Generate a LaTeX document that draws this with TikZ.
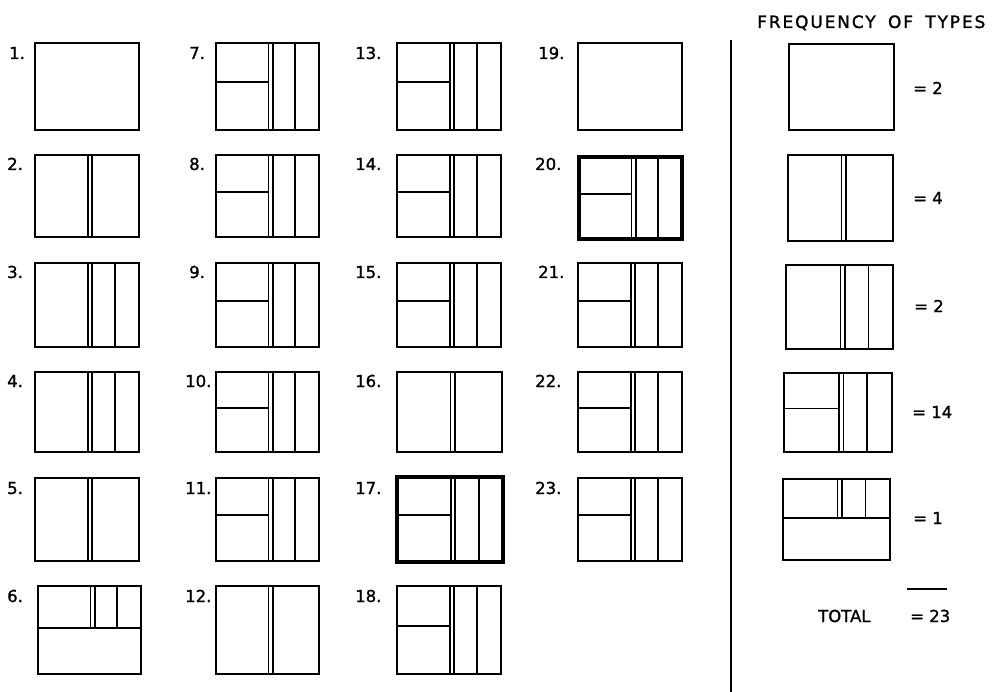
\documentclass[tikz,border=0pt]{standalone}
\usepackage{fontspec}
\setmainfont{DejaVu Sans}[FakeBold=1.3]
\usetikzlibrary{calc}
\newcommand\mkpanel[5]{\node[panel, minimum width=#4pt, minimum height=#5pt] (#1) at (#2,#3) {};}
\newcommand\splitB[1]{%
  \draw[inner] ($(#1.north west)!0.51!(#1.north east)$) -- ($(#1.south west)!0.51!(#1.south east)$);
  \draw[inner] ($(#1.north west)!0.55!(#1.north east)$) -- ($(#1.south west)!0.55!(#1.south east)$);}
\newcommand\splitC[1]{\splitB{#1}%
  \draw[inner] ($(#1.north west)!0.77!(#1.north east)$) -- ($(#1.south west)!0.77!(#1.south east)$);}
\newcommand\splitD[1]{\splitC{#1}%
  \coordinate (#1h) at ($(#1.north west)!0.45!(#1.south west)$);
  \coordinate (#1v) at ($(#1.north west)!0.51!(#1.north east)$);
  \draw[inner] (#1h) -- (#1h -| #1v);}
\newcommand\splitE[1]{%
  \coordinate (#1h) at ($(#1.north west)!0.48!(#1.south west)$);
  \coordinate (#1k) at ($(#1.north east)!0.48!(#1.south east)$);
  \draw[inner] (#1h) -- (#1k);
  \foreach \f in {0.51,0.55,0.77}{\draw[inner] ($(#1.north west)!\f!(#1.north east)$) -- ($(#1h)!\f!(#1k)$);}}
\begin{document}
\begin{tikzpicture}[x=1pt,y=-1pt,
  panel/.style={draw, line width=2.2pt, inner sep=0pt, outer sep=0pt, anchor=north west},
  heavy/.style={line width=4pt},
  inner/.style={line width=1.8pt},
  rule/.style={line width=1.8pt},
  lbl/.style={anchor=base west, inner sep=0pt, font=\fontsize{16.5}{19}\selectfont},
  eq/.style={anchor=west, inner sep=0pt, font=\fontsize{16.5}{19}\selectfont}]
\useasboundingbox (0,0) rectangle (998,692);
% column 1
\mkpanel{b1}{35}{43}{104}{87}
\mkpanel{b2}{35}{155}{104}{82}  \splitB{b2}
\mkpanel{b3}{35}{263}{104}{84}  \splitC{b3}
\mkpanel{b4}{35}{372}{104}{80}  \splitC{b4}
\mkpanel{b5}{35}{478}{104}{83}  \splitB{b5}
\mkpanel{b6}{38}{586}{103}{88}  \splitE{b6}
% column 2
\mkpanel{b7}{216}{43}{103}{87}  \splitD{b7}
\mkpanel{b8}{216}{155}{103}{82} \splitD{b8}
\mkpanel{b9}{216}{263}{103}{84} \splitD{b9}
\mkpanel{b10}{216}{372}{103}{80} \splitD{b10}
\mkpanel{b11}{216}{478}{103}{83} \splitD{b11}
\mkpanel{b12}{216}{586}{103}{88} \splitB{b12}
% column 3
\mkpanel{b13}{397}{43}{104}{87} \splitD{b13}
\mkpanel{b14}{397}{155}{104}{82} \splitD{b14}
\mkpanel{b15}{397}{263}{104}{84} \splitD{b15}
\mkpanel{b16}{397}{372}{105}{80} \splitB{b16}
\mkpanel{b17}{397}{477}{106}{85} \splitD{b17}
\draw[heavy] (b17.north west) rectangle (b17.south east);
\mkpanel{b18}{397}{586}{104}{88} \splitD{b18}
% column 4
\mkpanel{b19}{578}{43}{104}{87}
\mkpanel{b20}{579}{157}{103}{82} \splitD{b20}
\draw[heavy] (b20.north west) rectangle (b20.south east);
\mkpanel{b21}{578}{263}{104}{84} \splitD{b21}
\mkpanel{b22}{578}{372}{104}{80} \splitD{b22}
\mkpanel{b23}{578}{478}{104}{83} \splitD{b23}
% labels
\node[lbl] (l1) at (9,59) {1.};
\node[lbl] (l2) at (7,170) {2.};
\node[lbl] (l3) at (7,278) {3.};
\node[lbl] (l4) at (7,387) {4.};
\node[lbl] (l5) at (7,494) {5.};
\node[lbl] (l6) at (7,602) {6.};
\node[lbl] (l7) at (189,59) {7.};
\node[lbl] (l8) at (189,170) {8.};
\node[lbl] (l9) at (189,278) {9.};
\node[lbl] (l10) at (185,387) {10.};
\node[lbl] (l11) at (185,494) {11.};
\node[lbl] (l12) at (185,602) {12.};
\node[lbl] (l13) at (355,59) {13.};
\node[lbl] (l14) at (355,170) {14.};
\node[lbl] (l15) at (355,278) {15.};
\node[lbl] (l16) at (355,387) {16.};
\node[lbl] (l17) at (355,494) {17.};
\node[lbl] (l18) at (355,602) {18.};
\node[lbl] (l19) at (538,59) {19.};
\node[lbl] (l20) at (535,170) {20.};
\node[lbl] (l21) at (538,278) {21.};
\node[lbl] (l22) at (535,387) {22.};
\node[lbl] (l23) at (535,494) {23.};
% divider
\coordinate (dtop) at (731,40);
\coordinate (dbot) at (731,692);
\draw[rule] (dtop) -- (dbot);
% frequency column
\node[lbl, font=\fontsize{17}{20}\selectfont\addfontfeature{LetterSpace=11}] (title) at (757,28) {FREQUENCY\hspace{5pt} OF\hspace{5pt} TYPES};
\mkpanel{t1}{789}{44}{105}{86}
\mkpanel{t2}{788}{155}{105}{86} \splitB{t2}
\mkpanel{t3}{786}{265}{107}{84} \splitC{t3}
\mkpanel{t4}{784}{373}{108}{79} \splitD{t4}
\mkpanel{t5}{783}{479}{107}{81} \splitE{t5}
\node[eq] (f1) at (913,88) {= 2};
\node[eq] (f2) at (913,198) {= 4};
\node[eq] (f3) at (914,306) {= 2};
\node[eq] (f4) at (912,412) {= 14};
\node[eq] (f5) at (913,518) {= 1};
\node[lbl] (tot) at (818,622) {TOTAL};
\node[lbl] (totn) at (910,622) {= 23};
\coordinate (barL) at (907,589);
\coordinate (barR) at (947,589);
\draw[rule] (barL) -- (barR);
\end{tikzpicture}
\end{document}
